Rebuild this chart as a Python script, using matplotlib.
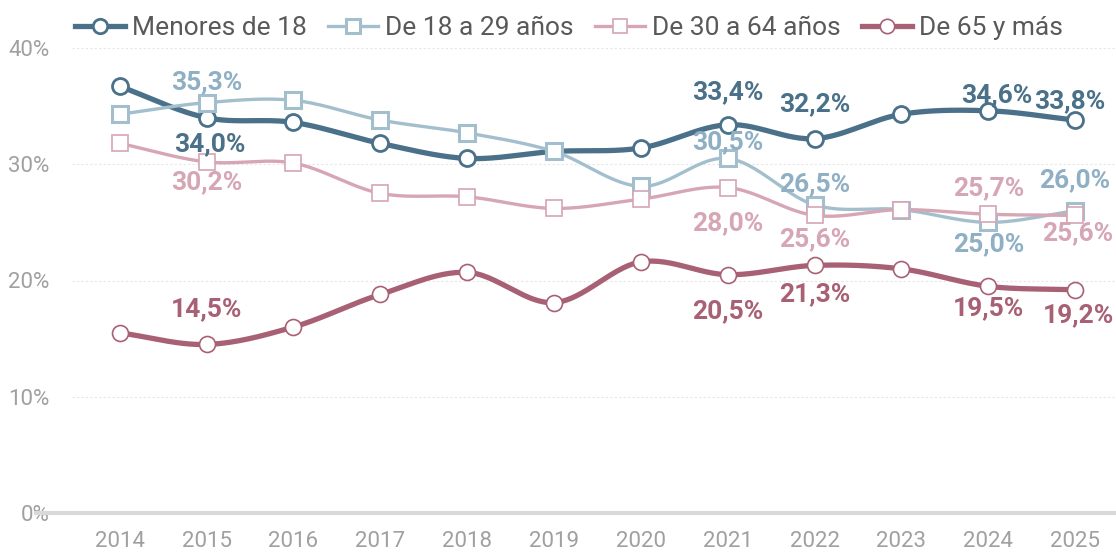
import numpy as np
import matplotlib
matplotlib.use("Agg")
import matplotlib.pyplot as plt
from matplotlib.lines import Line2D

plt.rcParams['font.family'] = ['Roboto', 'DejaVu Sans']

years = list(range(2014, 2026))
menores = [36.7, 34.0, 33.6, 31.8, 30.5, 31.1, 31.4, 33.4, 32.2, 34.3, 34.6, 33.8]
de18_29 = [34.3, 35.3, 35.5, 33.8, 32.7, 31.1, 28.1, 30.5, 26.5, 26.1, 25.0, 26.0]
de30_64 = [31.8, 30.2, 30.1, 27.5, 27.2, 26.2, 27.0, 28.0, 25.6, 26.1, 25.7, 25.6]
de65 = [15.5, 14.5, 16.0, 18.8, 20.7, 18.1, 21.6, 20.5, 21.3, 21.0, 19.5, 19.2]
names = ["Menores de 18", "De 18 a 29 años", "De 30 a 64 años", "De 65 y más"]

# labelled points: year -> (dx, dy) offset of the label centre in pixels (dy up)
labels_menores = {2015: (3, -26), 2021: (0, 33), 2022: (0, 34), 2024: (8, 16), 2025: (-5, 19)}
labels_18_29 = {2015: (0, 20), 2021: (0, 16), 2022: (0, 21), 2024: (0, -22), 2025: (0, 31)}
labels_30_64 = {2015: (0, -20), 2021: (0, -36), 2022: (0, -24), 2024: (0, 26), 2025: (3, -18)}
labels_65 = {2015: (0, 35), 2021: (0, -37), 2022: (0, -29), 2024: (0, -22), 2025: (3, -25)}


def smooth(x, y, n=30):
    # catmull-rom curve through the points, just for drawing
    x = np.asarray(x, float)
    y = np.asarray(y, float)
    px = np.concatenate([[2 * x[0] - x[1]], x, [2 * x[-1] - x[-2]]])
    py = np.concatenate([[2 * y[0] - y[1]], y, [2 * y[-1] - y[-2]]])
    xs, ys = [], []
    t = np.linspace(0, 1, n)
    for i in range(1, len(px) - 2):
        for p, out in ((px, xs), (py, ys)):
            p0, p1, p2, p3 = p[i - 1], p[i], p[i + 1], p[i + 2]
            out.append(0.5 * (2 * p1 + (-p0 + p2) * t
                              + (2 * p0 - 5 * p1 + 4 * p2 - p3) * t ** 2
                              + (-p0 + 3 * p1 - 3 * p2 + p3) * t ** 3))
    return np.concatenate(xs), np.concatenate(ys)


fig = plt.figure(figsize=(11.16, 5.52), dpi=100)
ax = fig.add_axes([72 / 1116, 39 / 552, 1 - 72 / 1116, 465 / 552])

styles = [
    dict(data=menores, color="#4a7189", lab="#4a7189", lw=3.8, marker="o", ms=11.5, mew=2.0, labs=labels_menores),
    dict(data=de18_29, color="#a3bfcd", lab="#8fb0c4", lw=2.4, marker="s", ms=11, mew=2.2, labs=labels_18_29),
    dict(data=de30_64, color="#d6a6b5", lab="#d6a6b5", lw=2.4, marker="s", ms=11, mew=1.2, labs=labels_30_64),
    dict(data=de65, color="#a86075", lab="#a86075", lw=3.8, marker="o", ms=11.5, mew=1.2, labs=labels_65),
]

handles = []
for i, s in enumerate(styles):
    sx, sy = smooth(years, s["data"])
    ax.plot(sx, sy, color=s["color"], lw=s["lw"], solid_capstyle="round", zorder=3 + i * 0.1)
    ax.plot(years, s["data"], linestyle="none", marker=s["marker"], ms=s["ms"],
            mfc="white", mec=s["color"], mew=s["mew"], zorder=4 + i * 0.1)
    for yr, (dx, dy) in s["labs"].items():
        v = s["data"][years.index(yr)]
        ax.annotate(f"{v:.1f}%".replace(".", ","), (yr, v), xytext=(dx * 0.72, dy * 0.72),
                    textcoords="offset points", ha="center", va="center",
                    fontsize=19, fontweight="bold", color=s["lab"], zorder=6)
    handles.append(Line2D([], [], color=s["color"], lw=s["lw"], marker=s["marker"],
                          ms=s["ms"] * 0.9, mfc="white", mec=s["color"], mew=s["mew"]))

ax.set_xlim(2013.45, 2025.47)
ax.set_ylim(0, 40)
ax.set_xticks(years)
ax.set_yticks([0, 10, 20, 30, 40])
ax.set_yticklabels([f"{v}%" for v in [0, 10, 20, 30, 40]])
ax.tick_params(length=0, labelsize=16, labelcolor="#a0a0a0")
for lab in ax.get_xticklabels() + ax.get_yticklabels():
    lab.set_family(["Liberation Sans Narrow", "Roboto", "DejaVu Sans"])
ax.tick_params(axis="x", pad=13)
ax.tick_params(axis="y", pad=16)
for sp in ax.spines.values():
    sp.set_visible(False)
for v in [10, 20, 30, 40]:
    ax.axhline(v, color="#e6e6e6", lw=0.8, ls=(0, (2, 2)), zorder=1)
ax.axhline(0, xmin=-36 / 1044, xmax=1, color="#d9d9d9", lw=3, clip_on=False, zorder=2)

leg = fig.legend(handles, names, loc="upper left", bbox_to_anchor=(59 / 1116, 1.0),
                 ncol=4, frameon=False, fontsize=19, handlelength=1.9,
                 handletextpad=0.27, columnspacing=0.8, labelcolor="#595959",
                 borderaxespad=0.2)

fig.savefig("out.png", dpi=100)
